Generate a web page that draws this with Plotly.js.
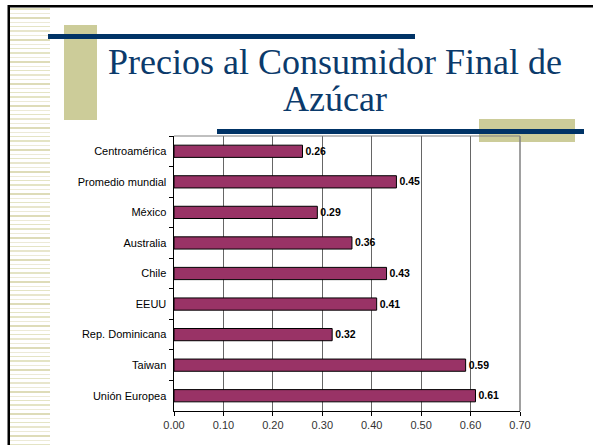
<!DOCTYPE html>
<html>
<head>
<meta charset="utf-8">
<script src="https://cdn.plot.ly/plotly-3.0.1.min.js"></script>
<style>
html,body{margin:0;padding:0;background:#fff;}
#chart{width:593px;height:445px;}
</style>
</head>
<body>
<div id="chart"></div>
<script>
// Data
var categories = ["Centroamérica","Promedio mundial","México","Australia","Chile","EEUU","Rep. Dominicana","Taiwan","Unión Europea"];
var prices = [0.26,0.45,0.29,0.36,0.43,0.41,0.32,0.59,0.61];
var tickVals = [0,0.1,0.2,0.3,0.4,0.5,0.6,0.7];
var tickText = ["0.00","0.10","0.20","0.30","0.40","0.50","0.60","0.70"];
var titleLine1 = "Precios al Consumidor Final de";
var titleLine2 = "Azúcar";

// plot box in pixels
var L = 174, R = 520, T = 136, B = 411, W = 593, H = 445;
function px(x){ return (x - L) / (R - L); }
function py(y){ return (B - y) / (B - T); }
function rect(x0,y0,x1,y1,color){
  return {type:'rect', xref:'paper', yref:'paper', x0:px(x0), x1:px(x1), y0:py(y1), y1:py(y0),
          fillcolor:color, line:{width:0}, layer:'above'};
}

var SANS = 'Liberation Sans';
var SERIF = 'Liberation Serif';

var shapes = [];
// left striped band
var stripePattern = [[0,2,'#e4e4c4'],[5,1,'#ecead6'],[9,2,'#dedcb8'],[14,1,'#ecead6'],[18,1,'#e4e4c4'],[22,2,'#e8e6cc'],[27,1,'#ecead6'],[31,2,'#dedcb8'],[36,1,'#ecead6'],[40,1,'#e4e4c4']];
for (var base = 8; base < H; base += 44) {
  stripePattern.forEach(function(s){
    var y0 = base + s[0];
    if (y0 < H) shapes.push(rect(10, y0, 50, Math.min(H, y0 + s[1]), s[2]));
  });
}
// slide border lines
shapes.push(rect(8, 5, W, 7.5, '#000000'));
shapes.push(rect(7.5, 5, 10, H, '#000000'));
// decorations
shapes.push(rect(64, 25, 97, 120, '#cccc99'));
shapes.push(rect(48, 34, 415, 39, '#003366'));
shapes.push(rect(479, 119, 575, 142, '#cccc99'));
shapes.push(rect(217, 129, 584, 134, '#003366'));
// plot frame top & right
shapes.push({type:'line', xref:'paper', yref:'paper', x0:0, x1:1, y0:1, y1:1, line:{color:'#808080', width:1}});
shapes.push({type:'line', xref:'paper', yref:'paper', x0:1, x1:1, y0:0, y1:1, line:{color:'#808080', width:1.5}});

var trace = {
  type:'bar', orientation:'h',
  x: prices, y: categories,
  marker:{color:'#993366', line:{color:'#000000', width:1}},
  width:0.4,
  text: prices.map(function(v){return v.toFixed(2);}),
  textposition:'outside',
  textfont:{family:SANS, size:12, color:'#000000', weight:'bold'},
  cliponaxis:false,
  hoverinfo:'none'
};

var layout = {
  width:W, height:H,
  margin:{l:L, r:W-R, t:T, b:H-B, pad:0},
  paper_bgcolor:'#ffffff', plot_bgcolor:'#ffffff',
  showlegend:false,
  font:{family:SANS, size:11, color:'#000'},
  xaxis:{range:[0,0.7], tickvals:tickVals, ticktext:tickText, showgrid:true, gridcolor:'#666666', gridwidth:1,
         zeroline:false, showline:true, linecolor:'#000000', linewidth:1, ticks:'outside', ticklen:4, tickcolor:'#000',
         tickfont:{family:SANS, size:11, color:'#333333'}, ticklabelstandoff:0, fixedrange:true},
  yaxis:{type:'category', autorange:'reversed', showline:true, linecolor:'#000000', linewidth:1.5, ticks:'outside',
         tickson:'boundaries', ticklen:4, tickcolor:'#000', showgrid:false, tickfont:{family:SANS, size:11, color:'#000'},
         ticklabelstandoff:4, fixedrange:true},
  shapes:shapes,
  annotations:[
    {text:titleLine1, xref:'paper', yref:'paper', x:px(335), y:py(62), xanchor:'center', yanchor:'middle', showarrow:false,
     font:{family:SERIF, size:36, color:'#0b3a6b'}},
    {text:titleLine2, xref:'paper', yref:'paper', x:px(335), y:py(99), xanchor:'center', yanchor:'middle', showarrow:false,
     font:{family:SERIF, size:36, color:'#0b3a6b'}}
  ]
};

Plotly.newPlot('chart', [trace], layout, {staticPlot:true, displayModeBar:false});
</script>
</body>
</html>
